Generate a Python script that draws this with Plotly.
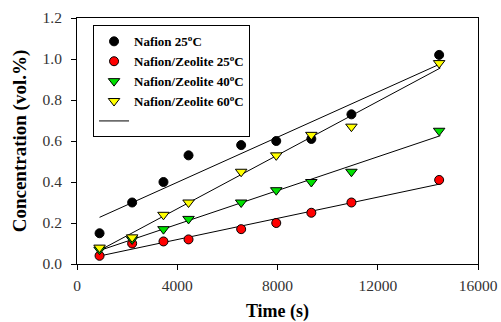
import numpy as np
import plotly.graph_objects as go

time_s = [900, 2200, 3450, 4450, 6550, 7950, 9350, 10950, 14450]
nafion_25 = [0.15, 0.30, 0.40, 0.53, 0.58, 0.60, 0.61, 0.73, 1.02]
nz_25 = [0.04, 0.10, 0.11, 0.12, 0.17, 0.20, 0.25, 0.30, 0.41]
nz_40 = [0.07, 0.12, 0.17, 0.22, 0.30, 0.36, 0.40, 0.45, 0.65]
nz_60 = [0.08, 0.13, 0.24, 0.30, 0.45, 0.53, 0.63, 0.67, 0.98]

series = [
    ("Nafion 25<sup>o</sup>C", nafion_25, "circle", "#000000"),
    ("Nafion/Zeolite 25<sup>o</sup>C", nz_25, "circle", "#ff0000"),
    ("Nafion/Zeolite 40<sup>o</sup>C", nz_40, "triangle-down", "#00e000"),
    ("Nafion/Zeolite 60<sup>o</sup>C", nz_60, "triangle-down", "#ffff00"),
]

fig = go.Figure()
t = np.array(time_s, dtype=float)
fit_x = np.array([t.min(), 14500.0])
for i, (name, vals, sym, col) in enumerate(series):
    k, b = np.polyfit(t, np.array(vals), 1)
    fig.add_trace(go.Scatter(
        x=fit_x, y=k * fit_x + b, mode="lines",
        line=dict(color="black", width=1),
        name=" ", showlegend=False, hoverinfo="skip"))
for name, vals, sym, col in series:
    fig.add_trace(go.Scatter(
        x=time_s, y=vals, mode="markers", name=name,
        marker=dict(symbol=sym, color=col, size=9 if sym == "circle" else 10,
                    line=dict(color="black", width=1))))
# legend entry for regression line
fig.add_trace(go.Scatter(x=[None], y=[None], mode="lines",
                         line=dict(color="black", width=1), name=" "))

serif = "Liberation Serif, Times New Roman, serif"
fig.update_layout(
    width=501, height=322,
    margin=dict(l=77, r=23, t=18, b=58),
    paper_bgcolor="white", plot_bgcolor="white",
    font=dict(family=serif, color="#222"),
    showlegend=True,
    legend=dict(x=0.04, y=0.97, xanchor="left", yanchor="top",
                bgcolor="white", bordercolor="black", borderwidth=1,
                font=dict(family=serif, size=13, color="black", weight="bold"),
                tracegroupgap=0, itemwidth=30),
    xaxis=dict(range=[0, 16000], tickvals=[0, 4000, 8000, 12000, 16000],
               tickformat="d", ticks="outside", ticklen=5, tickcolor="black",
               showline=True, linecolor="black", linewidth=1, mirror=True,
               showgrid=False, zeroline=False, ticklabelstandoff=2,
               automargin=False,
               tickfont=dict(size=15.5, color="#333"),
               title=dict(text="<b>Time (s)</b>", font=dict(size=18, color="black"), standoff=12)),
    yaxis=dict(range=[0, 1.2], tickvals=[0, 0.2, 0.4, 0.6, 0.8, 1.0, 1.2],
               tickformat=".1f", ticks="outside", ticklen=5, tickcolor="black",
               showline=True, linecolor="black", linewidth=1, mirror=True,
               showgrid=False, zeroline=False, ticklabelstandoff=6,
               automargin=False,
               tickfont=dict(size=15.5, color="#333"),
               title=dict(text="<b>Concentration (vol.%)</b>", font=dict(size=19, color="black"), standoff=10)),
)
fig.write_html("out.html")
